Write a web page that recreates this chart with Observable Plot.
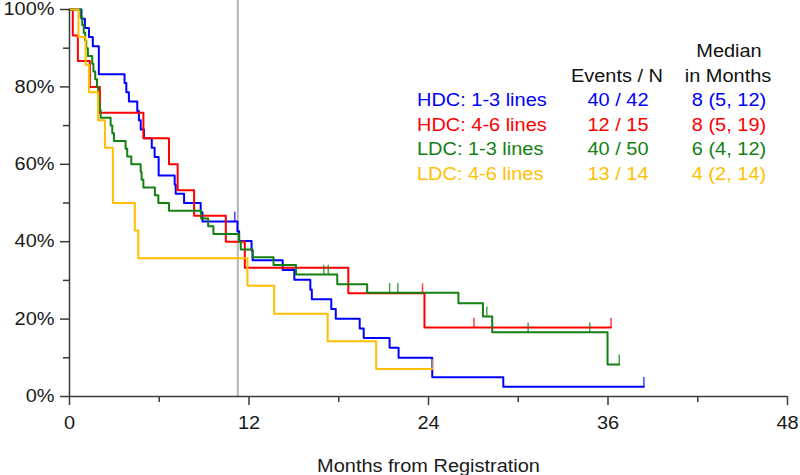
<!DOCTYPE html>
<html><head><meta charset="utf-8">
<script src="https://cdn.jsdelivr.net/npm/d3@7"></script>
<script src="https://cdn.jsdelivr.net/npm/@observablehq/plot@0.6"></script>
<style>
body{margin:0;background:#fff;}
#wrap{position:relative;width:800px;height:475px;font-family:"Liberation Sans",Arial,sans-serif;}
.lg{position:absolute;font-size:17.5px;line-height:17.5px;white-space:nowrap;}
</style></head><body><div id="wrap"></div>
<script>
// Kaplan-Meier step data: [month, survival %]
const hdc13 = [[0,100],[0.8,97.6],[1.03,95.2],[1.3,92.9],[1.56,90.5],[1.96,83.3],[3.68,81.0],[3.8,78.6],[3.97,76.2],[4.53,73.8],[4.64,71.4],[4.76,69.0],[4.98,66.7],[5.5,64.3],[5.69,61.9],[5.96,57.1],[7.03,54.8],[7.1,52.4],[7.66,50.0],[8.77,47.6],[8.89,45.2],[11.23,42.7],[11.34,40.2],[12.17,37.7],[12.24,35.2],[14.25,32.7],[15.03,30.2],[16.1,27.6],[16.2,25.1],[17.5,22.6],[17.8,20.1],[19.4,17.6],[19.67,15.1],[21.4,12.6],[22.0,10.0],[24.25,5.0],[29.0,2.5],[38.4,2.5]];
const hdc46 = [[0,100],[0.22,93.3],[0.56,86.7],[1.36,80],[2.03,73.3],[4.94,66.7],[6.65,60],[7.23,53.3],[8.33,46.7],[10.45,40],[11.72,33.3],[18.64,26.7],[23.73,17.8],[36.2,17.8]];
const ldc13 = [[0,100],[0.74,98],[0.85,96],[0.95,94],[1.05,92],[1.12,90],[1.23,88],[1.52,86],[1.6,84],[1.72,82],[1.84,80],[1.92,78],[1.97,76],[2.02,74],[2.08,72],[2.75,70],[2.86,68],[2.97,66],[3.75,64],[3.86,62],[4.13,60],[4.76,58],[4.82,56],[4.94,54],[5.71,52],[5.94,50],[6.65,48],[8.8,46],[9.27,44],[9.62,42],[11.34,40],[11.45,38],[12.24,36],[13.64,34],[15.14,31.5],[17.9,29],[19.9,26.8],[26.0,24.1],[27.64,20.7],[28.26,16.6],[35.97,8.3],[36.75,8.3]];
const ldc46 = [[0,100],[0.6,92.9],[1.08,85.7],[1.3,78.6],[1.91,71.4],[2.37,64.3],[2.9,50],[4.37,42.9],[4.6,35.7],[11.9,28.6],[13.68,21.4],[17.26,14.3],[20.5,7.1],[24.25,7.1]];

// censored observations: [month, survival %]
const censHdc13 = [[11.05,45.2],[38.4,2.5]];
const censHdc46 = [[23.6,26.7],[27.04,17.8],[36.2,17.8]];
const censLdc13 = [[17.0,31.5],[17.3,31.5],[21.4,26.8],[21.95,26.8],[27.9,20.7],[30.66,16.6],[34.78,16.6],[36.75,8.3]];
const censLdc46 = [[24.25,7.1]];

const groups = ["HDC: 1-3 lines","HDC: 4-6 lines","LDC: 1-3 lines","LDC: 4-6 lines"];
const eventsN = ["40 / 42","12 / 15","40 / 50","13 / 14"];
const medians = ["8 (5, 12)","8 (5, 19)","6 (4, 12)","4 (2, 14)"];
const colors = ["#0000ff","#ff0000","#138013","#ffbf00"];
const refMonth = [11.25];
const xMajor = [0,12,24,36,48];
const xMinor = [6,18,30,42];
const yMajor = [0,20,40,60,80,100];
const yMinor = [10,30,50,70,90];

const curves = [hdc13, hdc46, ldc13, ldc46];
const censors = [censHdc13, censHdc46, censLdc13, censLdc46];
const S = 1.14; // horizontal glyph stretch of the source image
const axisColor = "#3a3a3a";

const plot = Plot.plot({
  width: 800, height: 475,
  marginLeft: 69, marginRight: 13, marginTop: 9, marginBottom: 79,
  style: {fontFamily: "Liberation Sans, Arial, sans-serif", fontSize: "17.5px", color: "#1a1a1a", background: "#fff", overflow: "visible"},
  x: {domain: [0, 48]},
  y: {domain: [0, 100]},
  marks: [
    Plot.ruleX(refMonth, {y1: 0, y2: 102.3, stroke: "#b4b4b4", strokeWidth: 2}),
    ...curves.map((c, i) => Plot.line(c, {x: d => d[0], y: d => d[1], curve: "step-after", stroke: colors[i], strokeWidth: 2})),
    ...censors.map((c, i) => Plot.ruleX(c, {x: d => d[0], y1: d => d[1], y2: d => d[1] + 2.4, stroke: colors[i], strokeWidth: 1.5, strokeOpacity: 0.75})),
    Plot.axisX({ticks: xMajor, tickSize: 9, tickPadding: 11, strokeWidth: 1.5, stroke: axisColor, label: "Months from Registration", labelAnchor: "center", labelArrow: "none", labelOffset: 75}),
    Plot.axisX({ticks: xMinor, tickSize: 6, tickFormat: () => "", strokeWidth: 1.5, stroke: axisColor, label: null}),
    Plot.axisY({ticks: yMajor, tickSize: 9, tickPadding: 6, tickFormat: d => d + "%", strokeWidth: 1.5, stroke: axisColor, label: null}),
    Plot.axisY({ticks: yMinor, tickSize: 6, tickFormat: () => "", strokeWidth: 1.5, stroke: axisColor, label: null}),
    Plot.ruleX([0], {stroke: axisColor, strokeWidth: 1.5}),
    Plot.ruleY([0], {stroke: axisColor, strokeWidth: 1.5})
  ]
});

const wrap = document.getElementById("wrap");
wrap.appendChild(plot);
plot.querySelectorAll("text").forEach(t => {
  const w = t.getComputedTextLength();
  if (w > 0) { t.setAttribute("textLength", w * S); t.setAttribute("lengthAdjust", "spacingAndGlyphs"); }
});

// legend table (HTML overlay)
function addText(txt, x, cy, align, color) {
  const d = document.createElement("div");
  d.className = "lg";
  d.textContent = txt;
  d.style.color = color;
  d.style.top = (cy - 8.75) + "px";
  if (align === "left") { d.style.left = x + "px"; d.style.transformOrigin = "left center"; d.style.transform = `scaleX(${S})`; }
  else { d.style.left = x + "px"; d.style.transform = `translateX(-50%) scaleX(${S})`; }
  wrap.appendChild(d);
}
const rowY = [101, 125.5, 150, 174.5];
addText("Median", 729, 52, "center", "#111");
addText("Events / N", 617, 77, "center", "#111");
addText("in Months", 728, 77, "center", "#111");
groups.forEach((g, i) => {
  addText(g, 417, rowY[i], "left", colors[i]);
  addText(eventsN[i], 617.5, rowY[i], "center", colors[i]);
  addText(medians[i], 728.5, rowY[i], "center", colors[i]);
});
</script></body></html>
